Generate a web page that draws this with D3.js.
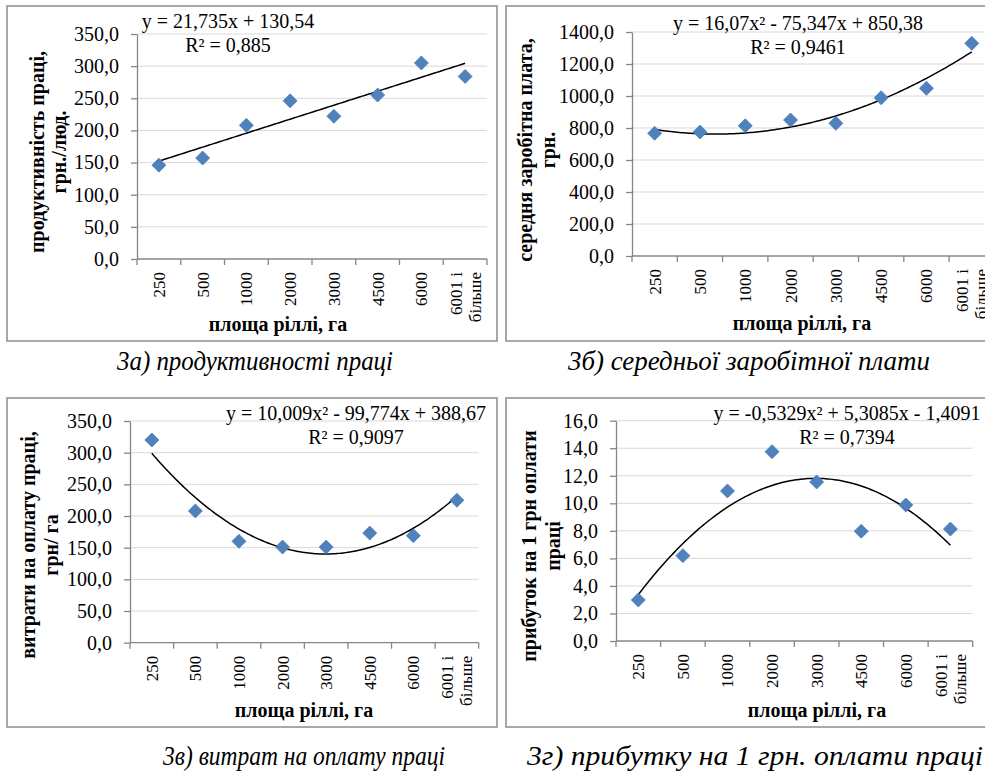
<!DOCTYPE html>
<html>
<head>
<meta charset="utf-8">
<script src="https://cdn.jsdelivr.net/npm/d3@7"></script>
<style>
  body { margin: 0; background: #fff; }
  svg text { font-family: "Times New Roman", "Liberation Serif", serif; fill: #000; }
</style>
</head>
<body>
<div id="chart"></div>
<script>
// categories (площа ріллі, га)
const categories = ["250", "500", "1000", "2000", "3000", "4500", "6000", "6001 і|більше"];

// series values
const productivity = [146, 157, 208, 246, 222, 255, 305, 284];
const avgWage = [767, 775, 814, 850, 829, 989, 1048, 1329];
const laborCost = [320, 208, 160, 151, 151, 173, 169, 225];
const profitPerUah = [2.98, 6.2, 10.9, 13.75, 11.55, 7.97, 9.88, 8.13];

// trend coefficients [a, b, c] for a*x^2 + b*x + c
const trendA = [0, 21.735, 130.54];
const trendB = [16.07, -75.347, 850.38];
const trendC = [10.009, -99.774, 388.67];
const trendD = [-0.5329, 5.3085, -1.4091];

// tick labels
const ticksA = [0, 50, 100, 150, 200, 250, 300, 350];
const ticksB = [0, 200, 400, 600, 800, 1000, 1200, 1400];
const ticksC = [0, 50, 100, 150, 200, 250, 300, 350];
const ticksD = [0, 2, 4, 6, 8, 10, 12, 14, 16];

const eqA = ["y = 21,735x + 130,54", "R² = 0,885"];
const eqB = ["y = 16,07x² - 75,347x + 850,38", "R² = 0,9461"];
const eqC = ["y = 10,009x² - 99,774x + 388,67", "R² = 0,9097"];
const eqD = ["y = -0,5329x² + 5,3085x - 1,4091", "R² = 0,7394"];

const yTitleA = ["продуктивність праці,", "грн./люд."];
const yTitleB = ["середня заробітна плата,", "грн."];
const yTitleC = ["витрати на оплату праці,", "грн/ га"];
const yTitleD = ["прибуток на 1 грн оплати", "праці"];
const xTitle = "площа ріллі, га";

const captions = ["3а) продуктивності праці", "3б) середньої заробітної плати",
                  "3в) витрат на оплату праці", "3г) прибутку на 1 грн. оплати праці"];

const svg = d3.select("#chart").append("svg")
  .attr("width", 985)
  .attr("height", 775);

const locale = d3.formatLocale({decimal: ",", thousands: "", grouping: [3], currency: ["", ""]});
const fmt = locale.format(".1f");

function drawPanel(p) {
  let g = svg.append("g");

  // frame
  g.append("rect")
    .attr("x", p.box[0]).attr("y", p.box[1])
    .attr("width", p.box[2]).attr("height", p.box[3])
    .attr("fill", "#fff")
    .attr("stroke", "#8c8c8c")
    .attr("stroke-width", 1.5);

  let x = d3.scaleBand()
    .domain(categories)
    .range([p.left, p.right])
    .padding(0);

  let y = d3.scaleLinear()
    .domain([0, d3.max(p.ticks)])
    .range([p.bottom, p.top]);

  // grid
  g.selectAll("line.grid")
    .data(p.ticks.filter(d => d > 0))
    .enter()
    .append("line")
    .attr("class", "grid")
    .attr("x1", p.left).attr("x2", p.right)
    .attr("y1", d => y(d)).attr("y2", d => y(d))
    .attr("stroke", "#d9d9d9")
    .attr("stroke-width", 1);

  // y axis
  let yAxis = d3.axisLeft(y)
    .tickValues(p.ticks)
    .tickSize(6)
    .tickSizeOuter(0)
    .tickPadding(12)
    .tickFormat(d => fmt(d));

  let ya = g.append("g")
    .attr("transform", `translate(${p.left},0)`)
    .call(yAxis);
  ya.select(".domain").attr("stroke", "#868686").attr("stroke-width", 1.3);
  ya.selectAll(".tick line").attr("stroke", "#868686").attr("stroke-width", 1.3);
  ya.selectAll(".tick text")
    .style("font-family", "'Times New Roman', 'Liberation Serif', serif")
    .style("font-size", "20px")
    .attr("fill", "#000");

  // x axis line + boundary ticks
  g.append("line")
    .attr("x1", p.left).attr("x2", p.right)
    .attr("y1", p.bottom).attr("y2", p.bottom)
    .attr("stroke", "#868686").attr("stroke-width", 1.3);

  let bounds = categories.map(c => x(c)).concat([p.right]);
  g.selectAll("line.xtick")
    .data(bounds)
    .enter()
    .append("line")
    .attr("class", "xtick")
    .attr("x1", d => d).attr("x2", d => d)
    .attr("y1", p.bottom).attr("y2", p.bottom + 6)
    .attr("stroke", "#868686").attr("stroke-width", 1.3);

  // x tick labels, rotated
  let labs = g.selectAll("text.xlab")
    .data(categories)
    .enter()
    .append("text")
    .attr("class", "xlab")
    .attr("transform", d => `translate(${x(d) + x.bandwidth() / 2},${p.bottom + 13}) rotate(-90)`)
    .style("text-anchor", "end")
    .style("font-size", "17px");

  labs.each(function(d) {
    let parts = d.split("|");
    let t = d3.select(this);
    if (parts.length == 1) {
      t.append("tspan").attr("x", 0).attr("y", 6).text(parts[0]);
    } else {
      t.append("tspan").attr("x", 0).attr("y", -3.5).text(parts[0]);
      t.append("tspan").attr("x", 0).attr("y", 15.5).text(parts[1]);
    }
  });

  // trend line
  let xl = d3.scaleLinear()
    .domain([1, categories.length])
    .range([x(categories[0]) + x.bandwidth() / 2, x(categories[categories.length - 1]) + x.bandwidth() / 2]);
  let ts = d3.range(1, categories.length + 0.001, 0.05);
  let line = d3.line()
    .x(t => xl(t))
    .y(t => y(p.trend[0] * t * t + p.trend[1] * t + p.trend[2]));
  g.append("path")
    .datum(ts)
    .attr("d", line)
    .attr("fill", "none")
    .attr("stroke", "#000")
    .attr("stroke-width", 1.5);

  // markers (diamonds)
  let r = 7;
  g.selectAll("path.pt")
    .data(p.values)
    .enter()
    .append("path")
    .attr("class", "pt")
    .attr("d", `M0,${-r}L${r},0L0,${r}L${-r},0Z`)
    .attr("transform", (d, i) => `translate(${x(categories[i]) + x.bandwidth() / 2},${y(d)})`)
    .attr("fill", "#4f81bd")
    .attr("stroke", "#4a7ebb")
    .attr("stroke-width", 0.8);

  // equation
  g.selectAll("text.eq")
    .data(p.eq)
    .enter()
    .append("text")
    .attr("class", "eq")
    .attr("x", p.eqX)
    .attr("y", (d, i) => p.eqY + i * 24)
    .style("text-anchor", "middle")
    .style("font-size", "20px")
    .text(d => d);

  // axis titles
  g.append("text")
    .attr("x", p.xtX).attr("y", p.xtY)
    .style("text-anchor", "middle")
    .style("font-size", "20px")
    .style("font-weight", "bold")
    .text(xTitle);

  g.selectAll("text.yt")
    .data(p.ytitle)
    .enter()
    .append("text")
    .attr("class", "yt")
    .attr("transform", (d, i) => `translate(${p.ytX[i]},${p.ytY}) rotate(-90)`)
    .attr("dy", "0.35em")
    .style("text-anchor", "middle")
    .style("font-size", "20px")
    .style("font-weight", "bold")
    .text(d => d);

  // caption
  svg.append("text")
    .attr("x", p.capX)
    .attr("y", p.capY)
    .attr("textLength", p.capW)
    .attr("lengthAdjust", "spacingAndGlyphs")
    .style("font-family", "'Liberation Serif', 'Times New Roman', serif")
    .style("font-size", "28px")
    .style("font-style", "italic")
    .text(p.caption);
}

drawPanel({
  box: [7, 6, 490, 335], left: 137, right: 487, top: 34, bottom: 259,
  ticks: ticksA, values: productivity, trend: trendA, eq: eqA, eqX: 228, eqY: 28,
  xtX: 278, xtY: 331, ytitle: yTitleA, ytX: [37, 59], ytY: 152,
  caption: captions[0], capX: 117, capY: 370, capW: 276
});

drawPanel({
  box: [506, 6, 490, 335], left: 632, right: 994.4, top: 32, bottom: 256,
  ticks: ticksB, values: avgWage, trend: trendB, eq: eqB, eqX: 798, eqY: 30,
  xtX: 802, xtY: 330, ytitle: yTitleB, ytX: [525, 548], ytY: 150,
  caption: captions[1], capX: 568, capY: 370, capW: 362
});

drawPanel({
  box: [7, 398, 490, 329], left: 130, right: 478.7, top: 421, bottom: 642.7,
  ticks: ticksC, values: laborCost, trend: trendC, eq: eqC, eqX: 356, eqY: 420,
  xtX: 304, xtY: 717, ytitle: yTitleC, ytX: [28, 51], ytY: 545,
  caption: captions[2], capX: 163, capY: 765, capW: 282
});

drawPanel({
  box: [506, 398, 490, 329], left: 616, right: 972.7, top: 420.7, bottom: 641,
  ticks: ticksD, values: profitPerUah, trend: trendD, eq: eqD, eqX: 847, eqY: 420,
  xtX: 817, xtY: 717, ytitle: yTitleD, ytX: [529, 553], ytY: 546,
  caption: captions[3], capX: 527, capY: 765, capW: 456
});
</script>
</body>
</html>
